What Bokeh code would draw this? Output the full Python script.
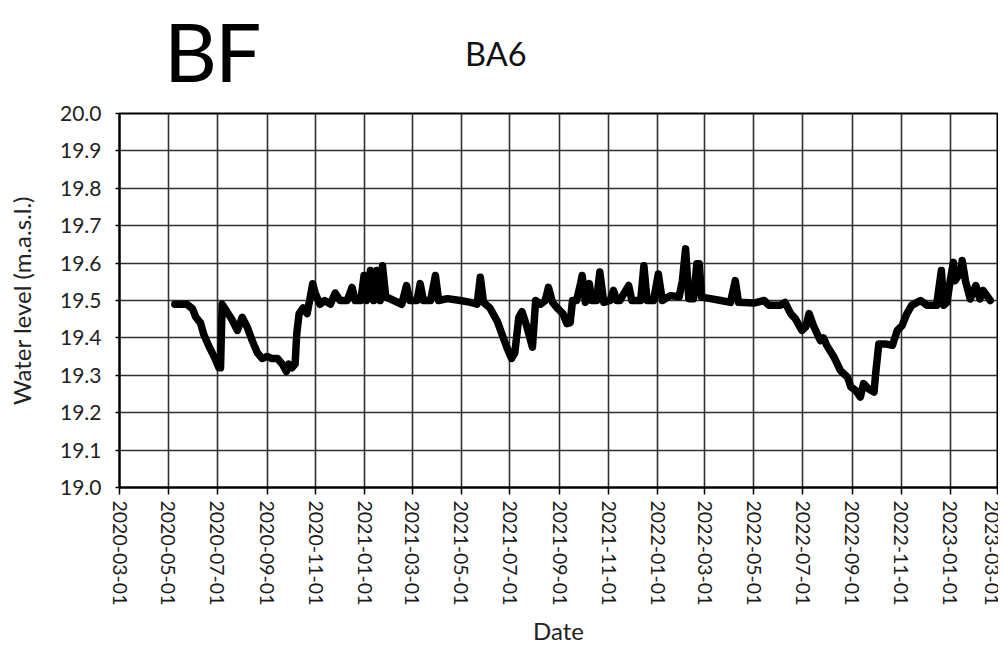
import pandas as pd
from bokeh.plotting import figure
from bokeh.layouts import column
from bokeh.models import Range1d, FixedTicker, DatetimeTickFormatter, ColumnDataSource, Div
from bokeh.embed import file_html
from bokeh.resources import INLINE

# ---- data ----
dates = [
    "2020-05-09", "2020-05-24", "2020-05-31", "2020-06-04", "2020-06-10", "2020-06-14", "2020-06-20",
    "2020-06-27", "2020-07-03", "2020-07-05", "2020-07-07", "2020-07-13", "2020-07-19", "2020-07-26",
    "2020-08-01", "2020-08-07", "2020-08-14", "2020-08-20", "2020-08-26", "2020-09-01", "2020-09-07",
    "2020-09-14", "2020-09-20", "2020-09-25", "2020-09-28", "2020-10-02", "2020-10-06", "2020-10-08",
    "2020-10-11", "2020-10-16", "2020-10-21", "2020-10-25", "2020-10-28", "2020-10-31", "2020-11-06",
    "2020-11-12", "2020-11-19", "2020-11-25", "2020-12-01", "2020-12-10", "2020-12-16", "2020-12-20",
    "2020-12-27", "2020-12-31", "2021-01-03", "2021-01-08", "2021-01-12", "2021-01-16", "2021-01-20",
    "2021-01-23", "2021-01-27", "2021-02-06", "2021-02-16", "2021-02-22", "2021-02-26", "2021-03-07",
    "2021-03-11", "2021-03-15", "2021-03-24", "2021-03-30", "2021-04-03", "2021-04-14", "2021-04-30",
    "2021-05-13", "2021-05-21", "2021-05-25", "2021-05-29", "2021-06-06", "2021-06-15", "2021-06-21",
    "2021-06-27", "2021-07-03", "2021-07-07", "2021-07-12", "2021-07-16", "2021-07-22", "2021-07-29",
    "2021-08-02", "2021-08-08", "2021-08-14", "2021-08-18", "2021-08-23", "2021-08-29", "2021-09-05",
    "2021-09-10", "2021-09-14", "2021-09-17", "2021-09-22", "2021-09-27", "2021-09-29", "2021-10-03",
    "2021-10-08", "2021-10-11", "2021-10-17", "2021-10-21", "2021-10-26", "2021-11-03", "2021-11-07",
    "2021-11-11", "2021-11-15", "2021-11-26", "2021-11-30", "2021-12-11", "2021-12-15", "2021-12-19",
    "2021-12-27", "2022-01-02", "2022-01-07", "2022-01-17", "2022-01-28", "2022-02-01", "2022-02-05",
    "2022-02-09", "2022-02-15", "2022-02-19", "2022-02-22", "2022-02-25", "2022-03-08", "2022-03-21",
    "2022-04-02", "2022-04-08", "2022-04-12", "2022-05-01", "2022-05-14", "2022-05-20", "2022-06-03",
    "2022-06-09", "2022-06-16", "2022-06-22", "2022-06-30", "2022-07-05", "2022-07-09", "2022-07-15",
    "2022-07-23", "2022-07-27", "2022-07-31", "2022-08-09", "2022-08-17", "2022-08-26", "2022-08-30",
    "2022-09-05", "2022-09-11", "2022-09-15", "2022-09-21", "2022-09-28", "2022-09-30", "2022-10-04",
    "2022-10-12", "2022-10-21", "2022-10-27", "2022-11-02", "2022-11-08", "2022-11-14", "2022-11-25",
    "2022-12-03", "2022-12-15", "2022-12-21", "2022-12-24", "2022-12-28", "2023-01-01", "2023-01-05",
    "2023-01-07", "2023-01-14", "2023-01-16", "2023-01-20", "2023-01-26", "2023-02-02", "2023-02-07",
    "2023-02-11", "2023-02-20",
]
levels = [
    19.49, 19.49, 19.478, 19.456, 19.44, 19.41, 19.38,
    19.35, 19.32, 19.32, 19.49, 19.47, 19.45, 19.42,
    19.455, 19.43, 19.39, 19.36, 19.345, 19.35, 19.345,
    19.345, 19.33, 19.31, 19.33, 19.32, 19.33, 19.41,
    19.465, 19.48, 19.465, 19.51, 19.545, 19.52, 19.49,
    19.50, 19.49, 19.52, 19.50, 19.50, 19.535, 19.50,
    19.50, 19.567, 19.50, 19.58, 19.50, 19.58, 19.50,
    19.593, 19.51, 19.50, 19.49, 19.54, 19.50, 19.50,
    19.545, 19.50, 19.50, 19.567, 19.50, 19.505, 19.50,
    19.495, 19.49, 19.562, 19.495, 19.48, 19.445, 19.41,
    19.375, 19.345, 19.36, 19.455, 19.47, 19.43, 19.375,
    19.50, 19.49, 19.50, 19.535, 19.495, 19.48, 19.465,
    19.438, 19.44, 19.50, 19.50, 19.545, 19.567, 19.495,
    19.545, 19.50, 19.50, 19.576, 19.495, 19.50, 19.527,
    19.50, 19.50, 19.54, 19.50, 19.50, 19.593, 19.50,
    19.50, 19.571, 19.50, 19.513, 19.51, 19.553, 19.638,
    19.505, 19.505, 19.598, 19.598, 19.509, 19.505, 19.50,
    19.495, 19.553, 19.495, 19.493, 19.50, 19.487, 19.487,
    19.495, 19.465, 19.451, 19.42, 19.43, 19.465, 19.43,
    19.393, 19.40, 19.38, 19.349, 19.313, 19.295, 19.269,
    19.26, 19.242, 19.278, 19.264, 19.255, 19.304, 19.384,
    19.384, 19.38, 19.42, 19.433, 19.465, 19.487, 19.50,
    19.487, 19.487, 19.58, 19.487, 19.495, 19.553, 19.602,
    19.553, 19.576, 19.607, 19.553, 19.504, 19.54, 19.504,
    19.527, 19.50,
]
tick_dates = [
    "2020-03-01", "2020-05-01", "2020-07-01", "2020-09-01", "2020-11-01", "2021-01-01",
    "2021-03-01", "2021-05-01", "2021-07-01", "2021-09-01", "2021-11-01", "2022-01-01",
    "2022-03-01", "2022-05-01", "2022-07-01", "2022-09-01", "2022-11-01", "2023-01-01",
    "2023-03-01",
]
y_ticks = [19.0, 19.1, 19.2, 19.3, 19.4, 19.5, 19.6, 19.7, 19.8, 19.9, 20.0]
x_start, x_end = "2020-03-01", "2023-03-01"
y_start, y_end = 19.0, 20.0
panel_title = "BF"
well_title = "BA6"

FONT = "Lato"


def ms(d):
    return pd.Timestamp(d).value / 1e6


src = ColumnDataSource(dict(date=[ms(d) for d in dates], level=levels))

p = figure(
    width=998, height=569,
    x_axis_type="datetime",
    x_range=Range1d(ms(x_start), ms(x_end)),
    y_range=Range1d(y_start, y_end),
    output_backend="svg", toolbar_location=None,
    min_border_left=119, min_border_right=1, min_border_top=14, min_border_bottom=181,
)
p.background_fill_color = "white"
p.border_fill_color = "white"
p.outline_line_color = "black"
p.outline_line_width = 2

p.line("date", "level", source=src, line_color="black", line_width=7.5,
       line_join="round", line_cap="round")

tick_ms = [ms(d) for d in tick_dates]
p.xaxis.ticker = FixedTicker(ticks=tick_ms)
fmt = "%Y-%m-%d"
p.xaxis.formatter = DatetimeTickFormatter(
    milliseconds=fmt, seconds=fmt, minsec=fmt, minutes=fmt, hourmin=fmt, hours=fmt,
    days=fmt, months=fmt, years=fmt)
p.xaxis.major_label_orientation = "vertical"
p.xaxis.major_label_text_font = FONT
p.xaxis.major_label_text_font_size = "19.5px"
p.xaxis.major_label_text_color = "#1a1a1a"
p.xaxis.major_label_standoff = 6
p.xaxis.major_tick_out = 7
p.xaxis.major_tick_in = 0
p.xaxis.minor_tick_line_color = None
p.xaxis.axis_label = "Date"
p.xaxis.axis_label_text_font = FONT
p.xaxis.axis_label_text_font_style = "normal"
p.xaxis.axis_label_text_font_size = "24px"
p.xaxis.axis_label_text_color = "#222222"
p.xaxis.axis_label_standoff = 8

p.yaxis.ticker = FixedTicker(ticks=y_ticks)
p.yaxis.major_label_overrides = {v: f"{v:.1f}" for v in y_ticks}
p.yaxis.major_label_text_font = FONT
p.yaxis.major_label_text_font_size = "21px"
p.yaxis.major_label_text_color = "#222222"
p.yaxis.major_tick_out = 4
p.yaxis.major_tick_in = 0
p.yaxis.major_label_standoff = 14
p.yaxis.minor_tick_line_color = None
p.yaxis.axis_label = "Water level (m.a.s.l.)"
p.yaxis.axis_label_text_font = FONT
p.yaxis.axis_label_text_font_style = "normal"
p.yaxis.axis_label_text_font_size = "24px"
p.yaxis.axis_label_text_color = "#222222"
p.yaxis.axis_label_standoff = 21

for ax in (p.xaxis, p.yaxis):
    ax.axis_line_color = "black"
    ax.axis_line_width = 2
    ax.major_tick_line_color = "black"
    ax.major_tick_line_width = 1.5

p.xgrid.grid_line_color = "#303030"
p.ygrid.grid_line_color = "#303030"
p.xgrid.grid_line_width = 1.6
p.ygrid.grid_line_width = 1.6
p.xgrid.ticker = FixedTicker(ticks=tick_ms)
p.ygrid.ticker = FixedTicker(ticks=y_ticks)

header_html = (
    '<div style="position:relative;width:998px;height:99px;margin:0;padding:0;'
    'font-family:Lato, sans-serif;color:#000;">'
    '<span style="position:absolute;left:164px;top:9px;font-size:82px;line-height:1;'
    'letter-spacing:-2px;">' + panel_title + '</span>'
    '<span style="position:absolute;left:465px;top:38px;font-size:32.5px;line-height:1;color:#111;">'
    + well_title + '</span>'
    '</div>'
)
header = Div(text=header_html, width=998, height=99, margin=0)

layout = column(header, p, spacing=0)

open("out.html", "w").write(file_html(layout, INLINE))
